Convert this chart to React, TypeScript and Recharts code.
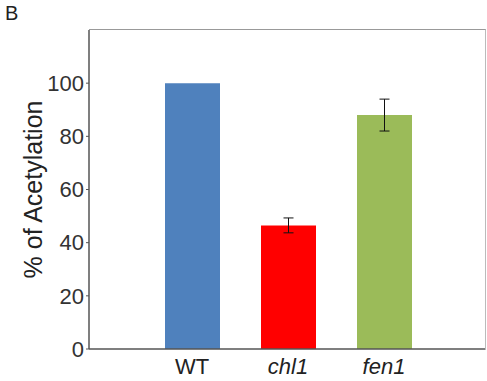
import React from 'react';
import { BarChart, Bar, XAxis, YAxis, Cell, ErrorBar } from 'recharts';

const strains = ['WT', 'chl1', 'fen1'];
const acetylation = [100, 46.5, 88];
const errors = [0, 2.8, 6];
const colors = ['#4F81BD', '#FF0000', '#9BBB59'];
const yTicks = [0, 20, 40, 60, 80, 100];

const data = strains.map((s, i) => ({ name: s, value: acetylation[i], err: errors[i] }));

const FONT = 'Liberation Sans, Arial, sans-serif';

const StrainTick = (props: any) => {
  const { x, y, payload } = props;
  const italic = payload.value !== 'WT';
  return (
    <text
      x={x}
      y={y + 17}
      textAnchor="middle"
      fontSize={22}
      fontStyle={italic ? 'italic' : 'normal'}
      fill="#222"
      fontFamily={FONT}
    >
      {payload.value}
    </text>
  );
};

export default function App() {
  return (
    <div style={{ position: 'absolute', left: 0, top: 0, width: 487, height: 381, background: '#fff', fontFamily: FONT }}>
      <div style={{ position: 'absolute', left: 5, top: 2, fontSize: 20, color: '#222' }}>B</div>
      {/* light frame on top and right of the plot area */}
      <div style={{ position: 'absolute', left: 89, top: 29, width: 396, height: 320, borderTop: '1px solid #999', borderRight: '1px solid #bbb' }} />
      <BarChart width={487} height={381} data={data} margin={{ top: 30, right: 2, bottom: 2, left: 0 }} style={{ position: 'absolute', left: 0, top: 0 }}>
        <XAxis
          dataKey="name"
          tick={<StrainTick />}
          tickLine={false}
          axisLine={{ stroke: '#555', strokeWidth: 1.5 }}
          padding={{ left: 55, right: 53 }}
          height={30}
        />
        <YAxis
          domain={[0, 120]}
          ticks={yTicks}
          width={89}
          tick={{ fontSize: 22, fill: '#333', fontFamily: FONT }}
          tickLine={{ stroke: '#555' }}
          tickSize={3}
          axisLine={{ stroke: '#555', strokeWidth: 1.5 }}
          label={{ value: '% of Acetylation', angle: -90, position: 'insideLeft', offset: 33, style: { fontSize: 25, fill: '#222', textAnchor: 'middle', fontFamily: FONT } }}
        />
        <Bar dataKey="value" barSize={55} isAnimationActive={false}>
          {data.map((d, i) => (
            <Cell key={d.name} fill={colors[i]} />
          ))}
          <ErrorBar dataKey="err" width={5} stroke="#111" strokeWidth={1} />
        </Bar>
      </BarChart>
    </div>
  );
}
